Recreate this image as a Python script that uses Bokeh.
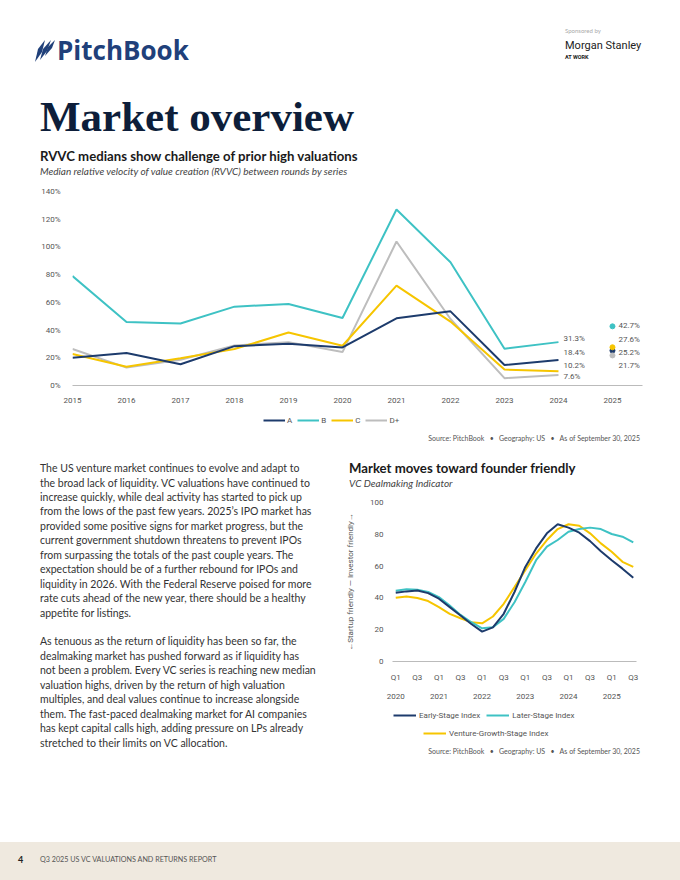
from bokeh.plotting import figure
from bokeh.layouts import column, row
from bokeh.models import (Range1d, Legend, LegendItem, LabelSet, FixedTicker, Div,
                          LinearAxis, ColumnDataSource, PrintfTickFormatter)
from bokeh.embed import file_html
from bokeh.resources import INLINE
from bokeh.core.properties import value

# ---------------- data: RVVC medians ----------------
rvvc_years = [2015, 2016, 2017, 2018, 2019, 2020, 2021, 2022, 2023, 2024]
rvvc_series = ["A", "B", "C", "D+"]
rvvc_a = [20.1, 23.4, 15.3, 28.4, 30.1, 27.5, 48.5, 53.5, 14.8, 18.4]
rvvc_b = [79.0, 45.9, 44.7, 56.9, 58.8, 48.7, 127.0, 88.9, 26.5, 31.3]
rvvc_c = [22.7, 13.6, 19.6, 26.3, 38.2, 28.7, 72.1, 46.1, 11.5, 10.2]
rvvc_d = [26.3, 12.9, 18.6, 28.9, 31.3, 24.1, 103.9, 48.0, 5.3, 7.6]
rvvc_latest_year = 2025
rvvc_latest = [25.2, 42.7, 27.6, 21.7]          # A, B, C, D+
rvvc_ticks_y = [0, 20, 40, 60, 80, 100, 120, 140]
rvvc_ticks_x = [2015, 2016, 2017, 2018, 2019, 2020, 2021, 2022, 2023, 2024, 2025]

# ---------------- data: VC Dealmaking Indicator ----------------
quarters = ["2020Q1", "2020Q2", "2020Q3", "2020Q4", "2021Q1", "2021Q2", "2021Q3", "2021Q4",
            "2022Q1", "2022Q2", "2022Q3", "2022Q4", "2023Q1", "2023Q2", "2023Q3", "2023Q4",
            "2024Q1", "2024Q2", "2024Q3", "2024Q4", "2025Q1", "2025Q2", "2025Q3"]
early_stage = [43.2, 44.1, 44.7, 43.0, 39.5, 34.2, 28.9, 23.6, 18.8, 21.5, 30.0, 43.7,
               59.5, 71.1, 80.6, 86.3, 84.2, 81.0, 75.7, 69.4, 63.7, 58.4, 52.7]
later_stage = [44.5, 45.4, 45.1, 43.7, 40.5, 35.2, 29.3, 24.7, 20.9, 21.5, 26.8, 37.3,
               50.0, 63.7, 72.2, 76.4, 81.6, 83.3, 84.2, 83.3, 80.2, 78.5, 74.9]
growth_stage = [40.1, 40.9, 39.9, 38.0, 34.2, 30.0, 27.2, 24.7, 24.0, 28.3, 36.3, 46.8,
                57.4, 67.9, 76.4, 83.3, 86.3, 85.4, 80.6, 74.3, 69.0, 62.7, 59.5]
vcdi_series = ["Early-Stage Index", "Later-Stage Index", "Venture-Growth-Stage Index"]
vcdi_ticks_y = [0, 20, 40, 60, 80, 100]

# ---------------- styles ----------------
NAVY = "#1d3b6c"
TEAL = "#3ec2c4"
YELLOW = "#f6c500"
GRAY = "#bdbdbd"
series_colors = [NAVY, TEAL, YELLOW, GRAY]
TICK_FONT = "Roboto"
BODY = "Lato"
TXT = "#555555"
SOURCE = "Source: PitchBook \u2002\u2022\u2002 Geography: US \u2002\u2022\u2002 As of September 30, 2025"

# label positions (layout, % units) for end-of-line value labels
label_y_2024 = [24.0, 34.1, 14.4, 6.5]
label_y_2025 = [24.0, 43.3, 33.0, 14.4]

METRICS = {"Lato": (0.987, 0.213), "Open Sans": (1.069, 0.293), "Roboto": (0.928, 0.244),
           "Liberation Serif": (0.891, 0.216)}


def t(x, yc, s, size, family=BODY, weight=400, style="normal", color="#333333",
      align="left", W=680, baseline=None):
    a, d = METRICS[family]
    lh = size * 1.25
    if baseline is None:
        baseline = yc + 0.35 * size
    top = baseline - ((lh - (a + d) * size) / 2 + a * size)
    pos = f"left:{x}px;" if align == "left" else f"right:{W - x}px;"
    return (f'<div style="position:absolute;{pos}top:{top:.2f}px;height:{lh:.2f}px;'
            f'line-height:{lh:.2f}px;font-family:\'{family}\';font-size:{size}px;'
            f'font-weight:{weight};font-style:{style};color:{color};white-space:nowrap;">{s}</div>')


def box(w, h, inner, bg="#ffffff"):
    html = (f'<div style="position:relative;width:{w}px;height:{h}px;overflow:hidden;'
            f'background:{bg};margin:0;padding:0;">{inner}</div>')
    return Div(text=html, width=w, height=h, margin=(0, 0, 0, 0))


def style_axis(ax):
    ax.major_tick_line_color = None
    ax.minor_tick_line_color = None
    ax.major_tick_out = 0
    ax.major_tick_in = 0
    ax.minor_tick_out = 0
    ax.major_label_text_font = TICK_FONT
    ax.major_label_text_font_size = "8px"
    ax.major_label_text_color = TXT


def legend_strip(w, h, left, right):
    # a strip holding only a legend; its range keeps the series lines out of view
    p = figure(width=w, height=h, x_range=Range1d(0, 1), y_range=Range1d(0, 1),
               output_backend="svg", toolbar_location=None, min_border_left=left,
               min_border_right=right, min_border_top=0, min_border_bottom=0,
               outline_line_color=None)
    p.axis.visible = False
    p.grid.visible = False
    return p


leg_kw = dict(orientation="horizontal", glyph_height=12, label_height=12, label_width=1,
              padding=0, margin=0, border_line_color=None, background_fill_alpha=0,
              label_text_font=TICK_FONT, label_text_font_size="8px", label_text_color=TXT)

# ---------------- header ----------------
logo = ('<svg style="position:absolute;left:34px;top:39px" width="24" height="24" viewBox="0 0 24 24">'
        '<polygon points="1,23 4,10 11,1 8,13" fill="#20407a"/>'
        '<polygon points="6,21 9,10 17,1 13,12" fill="#20407a"/>'
        '<polygon points="11,17 14,8 21,1 18,9" fill="#20407a"/></svg>')
header = box(680, 180, "".join([
    logo,
    t(57, 51, "PitchBook", 26, "Open Sans", 700, color="#20407a"),
    t(565, 31, "Sponsored by", 6, color="#aaaaaa"),
    t(565, 46, "Morgan Stanley", 11, "Roboto", 400, color="#222222"),
    t(565, 57, "AT WORK", 5.5, "Roboto", 700, color="#222222"),
    t(40, 0, "Market overview", 43, "Liberation Serif", 700, color="#0d1e3a", baseline=131),
    t(40, 157, "RVVC medians show challenge of prior high valuations", 13.2, BODY, 700,
      color="#1a1a1a"),
    t(40, 172, "Median relative velocity of value creation (RVVC) between rounds by series",
      10, BODY, 400, "italic", "#444444"),
]))

# ---------------- top chart ----------------
top = figure(width=680, height=228, x_range=Range1d(2015, 2025.556), y_range=Range1d(0, 140),
             output_backend="svg", toolbar_location=None, min_border_left=72,
             min_border_right=38, min_border_top=11, min_border_bottom=23,
             outline_line_color=None)
top.grid.visible = False
top.xaxis.ticker = FixedTicker(ticks=rvvc_ticks_x)
top.yaxis.ticker = FixedTicker(ticks=rvvc_ticks_y)
top.yaxis.formatter = PrintfTickFormatter(format="%d%%")
style_axis(top.xaxis[0])
style_axis(top.yaxis[0])
top.yaxis.axis_line_color = None
top.xaxis.axis_line_color = "#bbbbbb"
top.xaxis.major_label_standoff = 12
top.yaxis.major_label_standoff = 12

rvvc_vals = [rvvc_a, rvvc_b, rvvc_c, rvvc_d]
for idx in [3, 1, 2, 0]:
    top.line(rvvc_years, rvvc_vals[idx], line_color=series_colors[idx], line_width=2)
top.scatter([rvvc_latest_year] * 4, rvvc_latest, marker="circle", size=5,
            fill_color=series_colors, line_color=series_colors)

src24 = ColumnDataSource(dict(x=[rvvc_years[-1]] * 4, y=label_y_2024,
                              text=[f"{v[-1]:.1f}%" for v in rvvc_vals]))
src25 = ColumnDataSource(dict(x=[rvvc_latest_year] * 4, y=label_y_2025,
                              text=[f"{v:.1f}%" for v in rvvc_latest]))
for src, off in ((src24, 5), (src25, 6)):
    top.add_layout(LabelSet(x="x", y="y", text="text", source=src, x_offset=off,
                            text_align="left", text_baseline="middle",
                            text_font=value(TICK_FONT), text_font_size="8px",
                            text_color=TXT))

# legend strip for the top chart (same frame as the chart)
top_leg = legend_strip(680, 22, 72, 38)
top_items = []
for name, vals, col in zip(rvvc_series, rvvc_vals, series_colors):
    r = top_leg.line(rvvc_years, vals, line_color=col, line_width=2)
    top_items.append(LegendItem(label=name, renderers=[r]))
top_leg.add_layout(Legend(items=top_items, location=(191, 4), glyph_width=22,
                          label_standoff=2, spacing=5, **leg_kw))

src1 = box(680, 18, t(640, 9, SOURCE, 7, BODY, 400, color=TXT, align="right"))

# ---------------- paragraph ----------------
para_lines = [
    "The US venture market continues to evolve and adapt to",
    "the broad lack of liquidity. VC valuations have continued to",
    "increase quickly, while deal activity has started to pick up",
    "from the lows of the past few years. 2025\u2019s IPO market has",
    "provided some positive signs for market progress, but the",
    "current government shutdown threatens to prevent IPOs",
    "from surpassing the totals of the past couple years. The",
    "expectation should be of a further rebound for IPOs and",
    "liquidity in 2026. With the Federal Reserve poised for more",
    "rate cuts ahead of the new year, there should be a healthy",
    "appetite for listings.",
    "",
    "As tenuous as the return of liquidity has been so far, the",
    "dealmaking market has pushed forward as if liquidity has",
    "not been a problem. Every VC series is reaching new median",
    "valuation highs, driven by the return of high valuation",
    "multiples, and deal values continue to increase alongside",
    "them. The fast-paced dealmaking market for AI companies",
    "has kept capital calls high, adding pressure on LPs already",
    "stretched to their limits on VC allocation.",
]
para = box(340, 312, "".join(t(40, 21 + 14.45 * i, ln, 10.5, BODY, 400, color="#333333", W=340)
                             for i, ln in enumerate(para_lines) if ln))

# ---------------- bottom chart ----------------
bot_title = box(340, 45, t(9, 21, "Market moves toward founder friendly", 13.2, BODY, 700,
                           color="#1a1a1a", W=340) +
                t(9, 36, "VC Dealmaking Indicator", 10, BODY, 400, "italic", "#444444", W=340))

qx = list(range(len(quarters)))
bot = figure(width=340, height=212, x_range=Range1d(-0.3, 22.3), y_range=Range1d(0, 100),
             output_backend="svg", toolbar_location=None, min_border_left=52,
             min_border_right=44, min_border_top=9, min_border_bottom=44,
             outline_line_color=None)
bot.grid.visible = False
bot.xaxis.ticker = FixedTicker(ticks=[k for k, q in enumerate(quarters) if q[-1] in "13"])
bot.xaxis.major_label_overrides = {k: q[-2:] for k, q in enumerate(quarters) if q[-1] in "13"}
bot.yaxis.ticker = FixedTicker(ticks=vcdi_ticks_y)
year_axis = LinearAxis(ticker=FixedTicker(ticks=[k for k, q in enumerate(quarters) if q.endswith("Q1")]),
                       major_label_overrides={k: q[:4] for k, q in enumerate(quarters) if q.endswith("Q1")},
                       axis_line_color=None)
bot.add_layout(year_axis, "below")
for ax in (bot.xaxis[0], bot.yaxis[0], year_axis):
    style_axis(ax)
bot.yaxis.axis_line_color = None
bot.xaxis[0].axis_line_color = "#bbbbbb"
bot.xaxis[0].major_label_standoff = 11
year_axis.major_label_standoff = 9
bot.yaxis.major_label_standoff = 9
bot.yaxis.axis_label = "\u2190Startup friendly \u2014 Investor friendly\u2192"
bot.yaxis.axis_label_text_font = TICK_FONT
bot.yaxis.axis_label_text_font_size = "8px"
bot.yaxis.axis_label_text_font_style = "normal"
bot.yaxis.axis_label_text_color = TXT
bot.yaxis.axis_label_standoff = 12

vcdi_vals = [early_stage, later_stage, growth_stage]
vcdi_colors = [NAVY, TEAL, YELLOW]
for idx in [2, 1, 0]:
    bot.line(qx, vcdi_vals[idx], line_color=vcdi_colors[idx], line_width=2)

bot_leg = legend_strip(340, 40, 52, 44)
bot_r = [bot_leg.line(qx, v, line_color=c, line_width=2) for v, c in zip(vcdi_vals, vcdi_colors)]
bot_leg.x_range = Range1d(-10, -9)
bot_leg.add_layout(Legend(items=[LegendItem(label=vcdi_series[0], renderers=[bot_r[0]]),
                                 LegendItem(label=vcdi_series[1], renderers=[bot_r[1]])],
                          location=(1, 24), glyph_width=23, label_standoff=3, spacing=6,
                          **leg_kw))
bot_leg.add_layout(Legend(items=[LegendItem(label=vcdi_series[2], renderers=[bot_r[2]])],
                          location=(31, 6), glyph_width=23, label_standoff=3, spacing=6,
                          **leg_kw))

src2 = box(340, 15, t(300, 7, SOURCE, 7, BODY, 400, color=TXT, align="right", W=340))

# ---------------- footer ----------------
footer = box(680, 120, "".join([
    '<div style="position:absolute;left:0;top:82px;width:680px;height:38px;background:#efe9df;"></div>',
    t(18, 100, "4", 9, BODY, 700, color="#222222"),
    t(40, 100, "Q3 2025 US VC VALUATIONS AND RETURNS REPORT", 7.2, BODY, 400, color="#555555"),
]))

layout = column(header, top, top_leg, src1,
                row(para, column(bot_title, bot, bot_leg, src2, spacing=0), spacing=0),
                footer, spacing=0)
open("out.html", "w").write(file_html(layout, INLINE))
